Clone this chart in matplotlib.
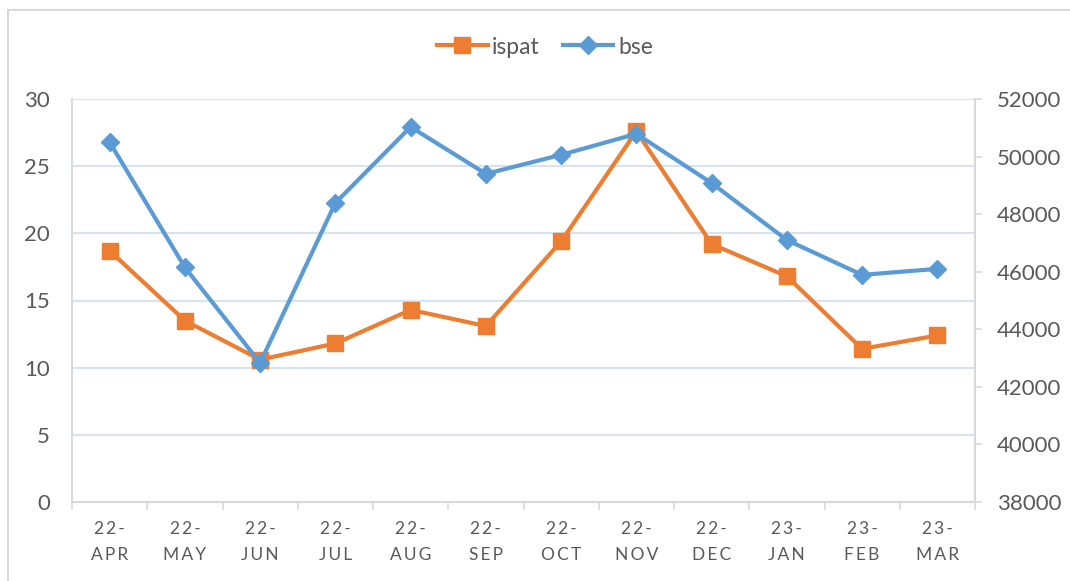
import matplotlib
matplotlib.use('Agg')
import matplotlib.pyplot as plt
from matplotlib.patches import Rectangle
from matplotlib.lines import Line2D

plt.rcParams['font.family'] = ['Lato', 'DejaVu Sans']

months = ['22-APR', '22-MAY', '22-JUN', '22-JUL', '22-AUG', '22-SEP',
          '22-OCT', '22-NOV', '22-DEC', '23-JAN', '23-FEB', '23-MAR']
ispat = [18.7, 13.5, 10.6, 11.8, 14.3, 13.1, 19.4, 27.6, 19.2, 16.8, 11.4, 12.4]
bse = [50500, 46150, 42830, 48390, 51030, 49400, 50060, 50790, 49080, 47100, 45890, 46100]

left_ticks = [0, 5, 10, 15, 20, 25, 30]
right_ticks = [38000, 40000, 42000, 44000, 46000, 48000, 50000, 52000]

orange = '#ED7D31'
blue = '#5B9BD5'
txt = '#595959'
gray = '#D9D9D9'

def spaced(s):
    # letter spacing like the original labels
    a, b = s.split('-')
    return '\u2009'.join(a + '-') + '\n' + '\u2009'.join(b)

fig = plt.figure(figsize=(10.7, 5.81), dpi=100)
ax = fig.add_axes([72/1070, 79/581, 903/1070, 403/581])
ax2 = ax.twinx()

x = list(range(len(months)))
ax.plot(x, ispat, color=orange, lw=3, marker='s', ms=12, zorder=3)
ax2.plot(x, bse, color=blue, lw=3, marker='D', ms=9.5, zorder=3)

ax.set_xlim(-0.5, 11.5)
ax.set_ylim(0, 30)
ax2.set_ylim(38000, 52000)
ax.set_yticks(left_ticks)
ax2.set_yticks(right_ticks)
ax.grid(axis='y', color='#D6E4F2', lw=1.5)
ax.set_axisbelow(True)

ax.set_xticks(x)
ax.set_xticklabels([spaced(m) for m in months], fontsize=12.5, color=txt, linespacing=1.7)
ax.set_xticks([i - 0.5 for i in range(len(months) + 1)], minor=True)
ax.tick_params(axis='x', which='major', length=0, pad=14)
ax.tick_params(axis='x', which='minor', length=6, color=gray, width=1.2, direction='out')
ax.tick_params(axis='y', length=0, pad=16, labelsize=16, labelcolor=txt)
ax2.tick_params(axis='y', length=5, width=1.2, color=gray, pad=10.5, labelsize=16, labelcolor=txt)

for a in (ax, ax2):
    a.spines['top'].set_visible(False)
    for s in ('left', 'right', 'bottom'):
        a.spines[s].set_color(gray)
        a.spines[s].set_linewidth(1.5)
ax.spines['right'].set_visible(False)
ax2.spines['left'].set_visible(False)
ax2.spines['bottom'].set_visible(False)

handles = [Line2D([], [], color=orange, lw=3, marker='s', ms=12),
           Line2D([], [], color=blue, lw=3, marker='D', ms=9.5)]
fig.legend(handles, ['ispat', 'bse'], loc='center', bbox_to_anchor=(545/1070, 1 - 47/581),
           ncol=2, frameon=False, fontsize=16.5, labelcolor=txt, handlelength=2.2,
           handletextpad=0.2, columnspacing=1.0)

fig.patches.append(Rectangle((8/1070, -0.05), 1.1, 1 - 10/581 + 0.05, transform=fig.transFigure,
                             fill=False, edgecolor=gray, lw=1.5))

fig.savefig('out.png', dpi=100)
